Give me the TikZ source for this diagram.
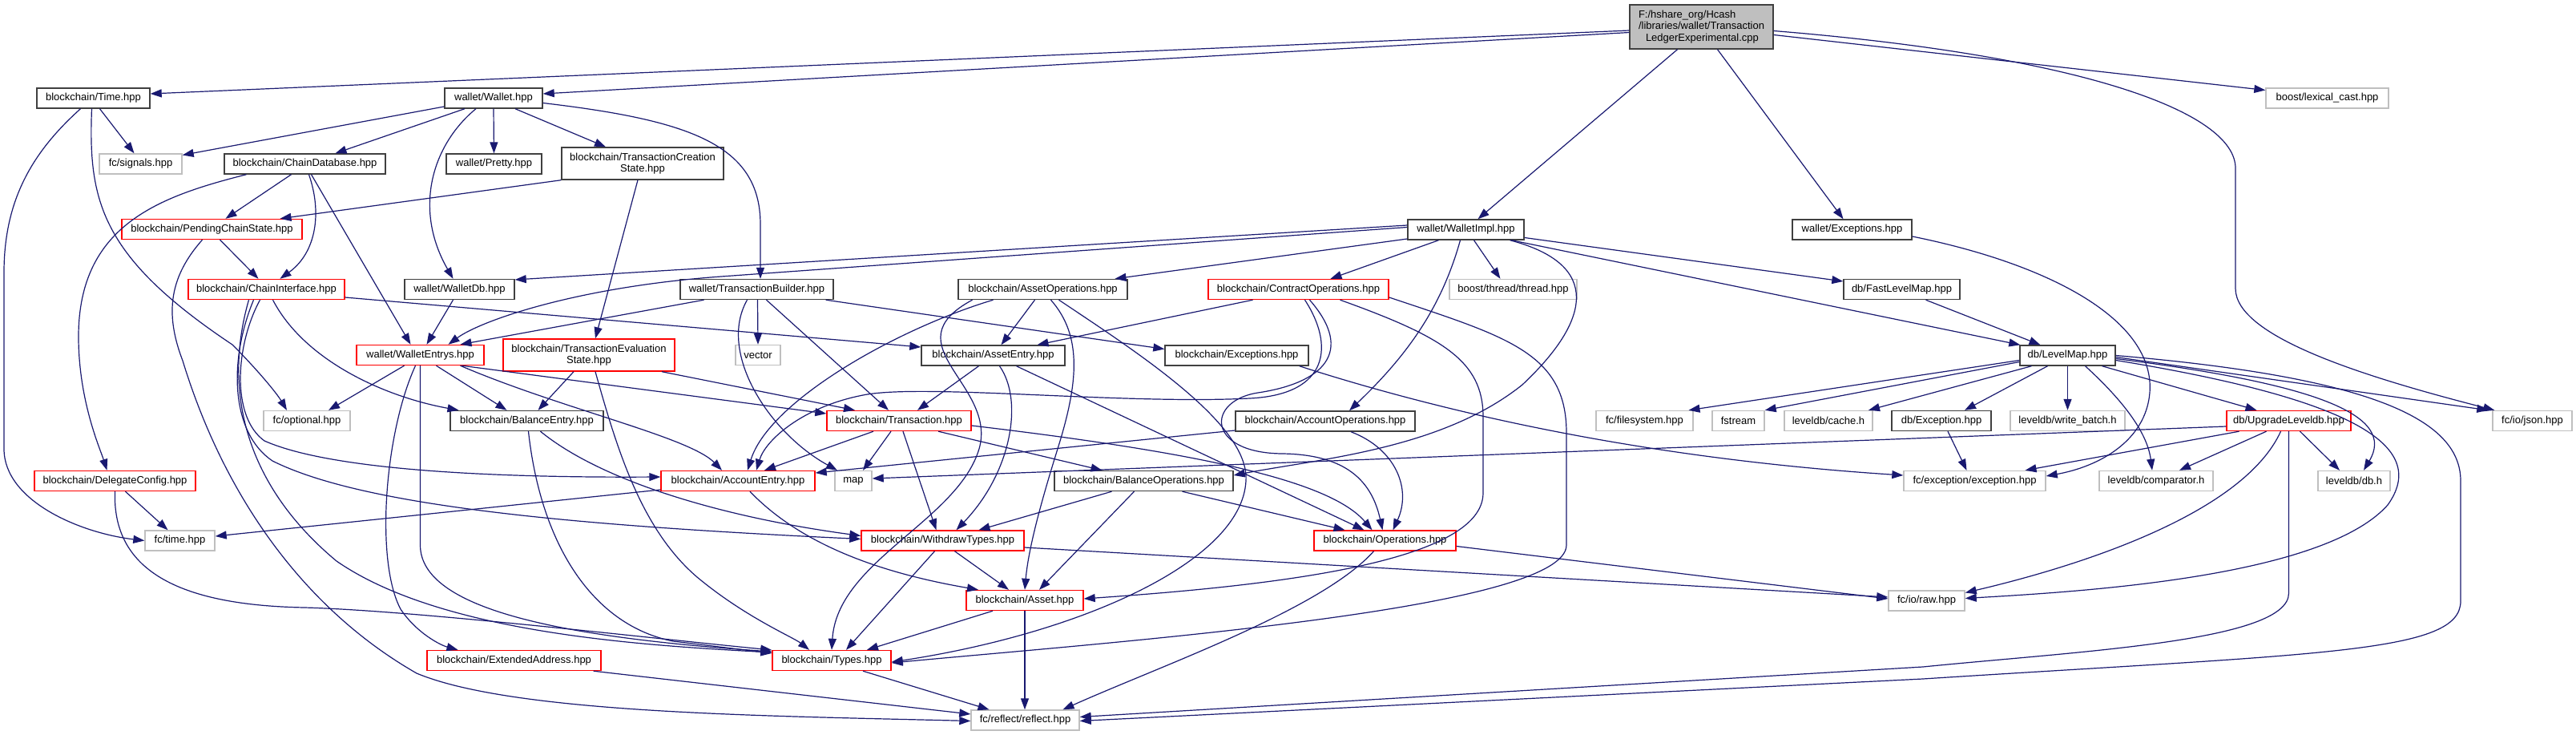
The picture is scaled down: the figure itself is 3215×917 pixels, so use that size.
\documentclass[tikz,border=0pt]{standalone}
\usepackage{fontspec}
\setmainfont{Liberation Sans}
\usetikzlibrary{arrows.meta}
\definecolor{edgec}{HTML}{191970}
\definecolor{bkc}{HTML}{404040}
\definecolor{grc}{HTML}{BFBFBF}
\definecolor{rdc}{HTML}{FF0000}
\newcommand{\fsz}{\fontsize{13}{14.5}\selectfont}
\begin{document}
\begin{tikzpicture}[x=1pt,y=-1pt,
  nb/.style={draw, rectangle, inner sep=0pt, minimum height=25pt, font=\fsz, line width=1.4pt, fill=white, align=center, text=black},
  bk/.style={nb, draw=bkc},
  rd/.style={nb, draw=rdc},
  gr/.style={nb, draw=grc},
  rt/.style={nb, draw=bkc, fill=grc},
  e/.style={draw=edgec, line width=1.2pt, -{Triangle[length=14pt,width=10pt]}}]
\useasboundingbox (0,0) rectangle (3215,917);
\fill[white] (0,0) rectangle (3215,917);

% nodes
\node[rt, minimum width=179pt, minimum height=55pt, align=left] (root) at (2123.5,33.5) {F:/hshare\_org/Hcash\\/libraries/wallet/Transaction\\\hspace*{9pt}LedgerExperimental.cpp};
\node[bk, minimum width=141pt] (time) at (116.5,122.5) {blockchain/Time.hpp};
\node[bk, minimum width=122pt] (wallet) at (616,122.5) {wallet/Wallet.hpp};
\node[gr, minimum width=103pt] (signals) at (175.5,204.5) {fc/signals.hpp};
\node[bk, minimum width=201pt] (chaindb) at (380.5,204.5) {blockchain/ChainDatabase.hpp};
\node[bk, minimum width=119pt] (pretty) at (616.5,204.5) {wallet/Pretty.hpp};
\node[bk, minimum width=202pt, minimum height=40pt] (tcs) at (802,204) {blockchain/TransactionCreation\\State.hpp};
\node[rd, minimum width=225pt] (pcs) at (264.5,286) {blockchain/PendingChainState.hpp};
\node[rd, minimum width=195pt] (ci) at (332.5,361) {blockchain/ChainInterface.hpp};
\node[bk, minimum width=137pt] (walletdb) at (573.5,361) {wallet/WalletDb.hpp};
\node[rd, minimum width=159pt] (we) at (524.5,443) {wallet/WalletEntrys.hpp};
\node[rd, minimum width=214pt, minimum height=40pt] (tes) at (735,443) {blockchain/TransactionEvaluation\\State.hpp};
\node[bk, minimum width=191pt] (tb) at (944.5,361) {wallet/TransactionBuilder.hpp};
\node[bk, minimum width=211pt] (assetops) at (1301.5,361) {blockchain/AssetOperations.hpp};
\node[rd, minimum width=225pt] (contractops) at (1620.5,361) {blockchain/ContractOperations.hpp};
\node[gr, minimum width=56pt] (vector) at (946,443) {vector};
\node[bk, minimum width=179pt] (assetentry) at (1239.5,443.5) {blockchain/AssetEntry.hpp};
\node[bk, minimum width=179pt] (bcexc) at (1543.5,443.5) {blockchain/Exceptions.hpp};
\node[bk, minimum width=145pt] (walletimpl) at (1829.5,286.5) {wallet/WalletImpl.hpp};
\node[bk, minimum width=149pt] (wexc) at (2311.5,286.5) {wallet/Exceptions.hpp};
\node[gr, minimum width=159pt] (thread) at (1888.5,361) {boost/thread/thread.hpp};
\node[bk, minimum width=145pt] (flm) at (2373.5,361) {db/FastLevelMap.hpp};
\node[gr, minimum width=153pt] (lexical) at (2904.5,122.5) {boost/lexical\_cast.hpp};
\node[bk, minimum width=119pt] (levelmap) at (2580.5,443.5) {db/LevelMap.hpp};
\node[gr, minimum width=108pt] (optional) at (383,525) {fc/optional.hpp};
\node[bk, minimum width=191pt] (balentry) at (657.5,525) {blockchain/BalanceEntry.hpp};
\node[rd, minimum width=201pt] (delegate) at (143.5,600) {blockchain/DelegateConfig.hpp};
\node[gr, minimum width=87pt] (fctime) at (224.5,674.5) {fc/time.hpp};
\node[rd, minimum width=217pt] (extaddr) at (641.5,824) {blockchain/ExtendedAddress.hpp};
\node[rd, minimum width=180pt] (trx) at (1122,525) {blockchain/Transaction.hpp};
\node[rd, minimum width=192pt] (accentry) at (921,600) {blockchain/AccountEntry.hpp};
\node[gr, minimum width=46pt] (map) at (1065,600) {map};
\node[bk, minimum width=223pt] (balops) at (1427.5,600) {blockchain/BalanceOperations.hpp};
\node[rd, minimum width=203pt] (withdraw) at (1176.5,674.5) {blockchain/WithdrawTypes.hpp};
\node[rd, minimum width=146pt] (asset) at (1279,749) {blockchain/Asset.hpp};
\node[rd, minimum width=148pt] (types) at (1038,824) {blockchain/Types.hpp};
\node[gr, minimum width=135pt] (reflect) at (1279.5,898.5) {fc/reflect/reflect.hpp};
\node[bk, minimum width=224pt] (accops) at (1654,525.5) {blockchain/AccountOperations.hpp};
\node[rd, minimum width=177pt] (ops) at (1728.5,674.5) {blockchain/Operations.hpp};
\node[gr, minimum width=121pt] (filesystem) at (2052.5,525) {fc/filesystem.hpp};
\node[gr, minimum width=65pt] (fstream) at (2169.5,525) {fstream};
\node[gr, minimum width=110pt] (cache) at (2282,525) {leveldb/cache.h};
\node[bk, minimum width=124pt] (dbexc) at (2423,525) {db/Exception.hpp};
\node[gr, minimum width=177pt] (fcexc) at (2464.5,600) {fc/exception/exception.hpp};
\node[gr, minimum width=95pt] (raw) at (2404.5,749.5) {fc/io/raw.hpp};
\node[gr, minimum width=143pt] (wbatch) at (2580.5,525) {leveldb/write\_batch.h};
\node[rd, minimum width=155pt] (upgrade) at (2856.5,525) {db/UpgradeLeveldb.hpp};
\node[gr, minimum width=99pt] (json) at (3160.5,525) {fc/io/json.hpp};
\node[gr, minimum width=142pt] (comparator) at (2691,600) {leveldb/comparator.h};
\node[gr, minimum width=90pt] (dbh) at (2938,600) {leveldb/db.h};

% root
\draw[e] ([yshift=-4.5pt]root.west) -- ([yshift=5.5pt]time.east);
\draw[e] ([yshift=-7pt]root.west) -- ([yshift=5.5pt]wallet.east);
\draw[e] ([xshift=-30pt]root.south) -- ([xshift=15pt]walletimpl.north);
\draw[e] ([xshift=20pt]root.south) -- ([xshift=-11pt]wexc.north);
\draw[e] ([yshift=-10pt]root.east) -- ([yshift=10pt]lexical.west);
\draw[e] ([yshift=-5pt]root.east) .. controls (2600,70) and (2790,140) .. (2790,210) -- (2790,360) .. controls (2790,420) and (2950,470) .. ([xshift=3pt]json.north west);
% time
\draw[e] ([xshift=8pt]time.south) -- ([xshift=-8pt]signals.north);
\draw[e] ([xshift=-16pt]time.south) .. controls (40,190) and (5,250) .. (5,340) -- (5,560) .. controls (5,625) and (100,665) .. (fctime.west);
\draw[e] ([xshift=-2pt]time.south) .. controls (110,250) and (125,320) .. (290,430) .. controls (320,460) and (345,490) .. ([xshift=-25pt]optional.north);
% wallet
\draw[e] ([yshift=-10.5pt]wallet.west) -- ([yshift=11pt]signals.east);
\draw[e] ([xshift=-36pt]wallet.south) -- ([xshift=38pt]chaindb.north);
\draw[e] (wallet.south) -- (pretty.north);
\draw[e] ([xshift=27pt]wallet.south) -- ([xshift=-46pt]tcs.north);
\draw[e] ([xshift=-22pt]wallet.south) .. controls (540,180) and (515,260) .. ([xshift=-8pt]walletdb.north);
\draw[e] ([yshift=-6pt]wallet.east) .. controls (860,150) and (949,180) .. (949,280) -- ([xshift=4.5pt]tb.north);
% chaindb
\draw[e] ([xshift=-17pt]chaindb.south) -- ([xshift=17pt]pcs.north);
\draw[e] ([xshift=5pt]chaindb.south) .. controls (402,265) and (395,315) .. ([xshift=17pt]ci.north);
\draw[e] ([xshift=8pt]chaindb.south) -- ([xshift=-12pt]we.north);
\draw[e] ([xshift=-73pt]chaindb.south) .. controls (200,245) and (98,280) .. (98,420) .. controls (98,500) and (125,560) .. ([xshift=-10pt]delegate.north);
% tcs
\draw[e] (tcs.south west) -- ([xshift=85pt]pcs.north);
\draw[e] ([xshift=-6pt]tcs.south) -- ([xshift=8pt]tes.north);
% pcs
\draw[e] ([xshift=10pt]pcs.south) -- ([xshift=-10pt]ci.north);
\draw[e] ([xshift=-12pt]pcs.south) .. controls (212,345) and (205,390) .. (228,450) .. controls (280,620) and (380,760) .. (520,840) .. controls (640,890) and (950,893) .. ([yshift=-1pt]reflect.west);
% ci
\draw[e] ([yshift=-10pt]ci.east) -- ([yshift=10.5pt]assetentry.west);
\draw[e] ([xshift=8pt]ci.south) .. controls (380,450) and (480,495) .. ([xshift=-85pt]balentry.north);
\draw[e] ([xshift=-8pt]ci.south) .. controls (294,430) and (288,520) .. (330,550) .. controls (420,590) and (650,596) .. ([yshift=5pt]accentry.west);
\draw[e] ([xshift=-16pt]ci.south) .. controls (285,450) and (288,540) .. (340,575) .. controls (450,630) and (700,655) .. ([yshift=2pt]withdraw.west);
\draw[e] ([xshift=-22pt]ci.south) .. controls (280,480) and (300,600) .. (420,700) .. controls (550,790) and (800,805) .. ([yshift=10pt]types.west);
% walletdb
\draw[e] ([xshift=-8pt]walletdb.south) -- ([xshift=8pt]we.north);
% we
\draw[e] ([xshift=-20pt]we.south) -- ([xshift=27pt]optional.north);
\draw[e] ([xshift=20pt]we.south) -- ([xshift=-25pt]balentry.north);
\draw[e] ([xshift=50pt]we.south) .. controls (700,510) and (860,545) .. ([xshift=-20pt]accentry.north);
\draw[e] ([xshift=52pt]we.south) -- ([yshift=9pt]trx.west);
\draw[e] ([xshift=-6pt]we.south) .. controls (480,540) and (468,700) .. (500,760) .. controls (520,790) and (550,805) .. ([xshift=-70pt]extaddr.north);
\draw[e] (we.south) -- (524.5,680) .. controls (524.5,760) and (700,795) .. ([yshift=11pt]types.west);
% tes
\draw[e] ([xshift=-19pt]tes.south) -- ([xshift=14pt]balentry.north);
\draw[e] ([xshift=91pt]tes.south) -- ([xshift=-55pt]trx.north);
\draw[e] ([xshift=8pt]tes.south) .. controls (770,560) and (800,660) .. (870,720) .. controls (930,770) and (990,795) .. ([xshift=-28pt]types.north);
% walletimpl
\draw[e] ([yshift=5.5pt]walletimpl.west) -- ([yshift=12pt]walletdb.east);
\draw[e] ([yshift=3pt]walletimpl.west) -- (900,345) .. controls (720,358) and (600,400) .. ([xshift=35pt]we.north);
\draw[e] ([yshift=-11.5pt]walletimpl.west) -- ([xshift=90pt]assetops.north);
\draw[e] ([xshift=-34pt]walletimpl.south) -- ([xshift=40pt]contractops.north);
\draw[e] ([xshift=10pt]walletimpl.south) -- ([xshift=-16pt]thread.north);
\draw[e] ([yshift=-10pt]walletimpl.east) -- ([yshift=10pt]flm.west);
\draw[e] ([xshift=57pt]walletimpl.south) -- ([xshift=1pt]levelmap.north west);
\draw[e] ([xshift=-7pt]walletimpl.south) .. controls (1800,380) and (1760,440) .. ([xshift=30pt]accops.north);
\draw[e] ([xshift=55pt]walletimpl.south) .. controls (2000,330) and (1985,400) .. (1900,480) .. controls (1800,560) and (1650,572) .. ([yshift=7pt]balops.east);
% tb
\draw[e] ([xshift=-66pt]tb.south) -- ([xshift=50pt]we.north);
\draw[e] ([xshift=1pt]tb.south) -- (vector.north);
\draw[e] ([xshift=12pt]tb.south) -- ([xshift=-13pt]trx.north);
\draw[e] ([xshift=-12pt]tb.south) .. controls (895,440) and (960,540) .. ([xshift=-20pt]map.north);
\draw[e] ([xshift=-10pt]tb.south east) -- ([yshift=8pt]bcexc.west);
% assetops
\draw[e] ([xshift=-10pt]assetops.south) -- ([xshift=10pt]assetentry.north);
\draw[e] ([xshift=-62pt]assetops.south) .. controls (1120,410) and (960,500) .. ([xshift=12pt]accentry.north);
\draw[e] ([xshift=-88pt]assetops.south) .. controls (1110,430) and (1245,480) .. (1222,560) .. controls (1195,650) and (1045,700) .. (types.north);
\draw[e] ([xshift=10pt]assetops.south) .. controls (1352,420) and (1345,480) .. (1320,560) .. controls (1295,640) and (1283,690) .. (asset.north);
\draw[e] ([xshift=20pt]assetops.south) .. controls (1420,440) and (1560,530) .. (1555,600) .. controls (1550,700) and (1350,790) .. ([yshift=-2pt]types.east);
% contractops
\draw[e] ([xshift=-57pt]contractops.south) -- ([xshift=55pt]assetentry.north);
\draw[e] ([xshift=8pt]contractops.south) .. controls (1665,430) and (1660,492) .. (1560,497) .. controls (1400,505) and (1150,478) .. (1077,493) .. controls (1000,508) and (955,550) .. ([xshift=23pt]accentry.north);
\draw[e] ([xshift=14pt]contractops.south) .. controls (1692,440) and (1650,478) .. (1570,490) .. controls (1505,500) and (1505,565) .. (1600,566) .. controls (1680,567) and (1712,600) .. ([xshift=-3pt]ops.north);
\draw[e] ([xshift=52pt]contractops.south) .. controls (1800,420) and (1851,450) .. (1851,520) -- (1851,615) .. controls (1851,700) and (1600,730) .. ([yshift=2pt]asset.east);
\draw[e] ([yshift=-10pt]contractops.east) .. controls (1880,420) and (1955,440) .. (1955,540) -- (1955,680) .. controls (1955,760) and (1400,800) .. ([yshift=-3pt]types.east);
% exceptions, fastlevelmap
\draw[e] ([yshift=-8.5pt]wexc.east) .. controls (2560,330) and (2690,400) .. (2683,490) .. controls (2678,550) and (2620,582) .. ([yshift=6pt]fcexc.east);
\draw[e] ([xshift=30pt]flm.south) -- ([xshift=-34pt]levelmap.north);
\draw[e] ([xshift=-12pt]bcexc.south east) .. controls (1850,530) and (2100,575) .. ([yshift=7pt]fcexc.west);
% assetentry
\draw[e] ([xshift=-18pt]assetentry.south) -- ([xshift=23pt]trx.north);
\draw[e] ([xshift=8pt]assetentry.south) .. controls (1278,500) and (1262,590) .. ([xshift=17pt]withdraw.north);
\draw[e] ([xshift=29pt]assetentry.south) -- ([xshift=-26pt]ops.north);
% accops
\draw[e] ([yshift=-11.5pt]accops.west) -- ([yshift=10pt]accentry.east);
\draw[e] ([xshift=32pt]accops.south) .. controls (1742,560) and (1762,610) .. ([xshift=10pt]ops.north);
% trx
\draw[e] ([xshift=-32pt]trx.south) -- ([xshift=33pt]accentry.north);
\draw[e] ([xshift=-10pt]trx.south) -- ([xshift=12pt]map.north);
\draw[e] ([xshift=5pt]trx.south) -- ([xshift=-8pt]withdraw.north);
\draw[e] ([xshift=49pt]trx.south) -- ([xshift=-52pt]balops.north);
\draw[e] ([yshift=-6pt]trx.east) .. controls (1500,565) and (1660,600) .. ([xshift=-16pt]ops.north);
% balops
\draw[e] ([xshift=-40pt]balops.south) -- ([xshift=45pt]withdraw.north);
\draw[e] ([xshift=-12pt]balops.south) -- ([xshift=18pt]asset.north);
\draw[e] ([xshift=48pt]balops.south) -- ([xshift=-50pt]ops.north);
% accentry
\draw[e] ([yshift=-11pt]accentry.west) -- ([yshift=5.5pt]fctime.east);
\draw[e] ([xshift=15pt]accentry.south) .. controls (1000,680) and (1100,715) .. ([xshift=-58pt]asset.north);
% balentry
\draw[e] ([xshift=17pt]balentry.south) .. controls (750,600) and (900,645) .. ([yshift=6pt]withdraw.west);
\draw[e] ([xshift=2pt]balentry.south) .. controls (675,680) and (740,780) .. (840,800) -- ([yshift=9pt]types.west);
% withdraw
\draw[e] ([xshift=15pt]withdraw.south) -- ([xshift=-20pt]asset.north);
\draw[e] ([xshift=-10pt]withdraw.south) -- ([xshift=18pt]types.north);
\draw[e] ([yshift=-8.5pt]withdraw.east) -- ([yshift=4.5pt]raw.west);
% asset, types
\draw[e] ([xshift=-40pt]asset.south) -- ([xshift=44pt]types.north);
\draw[e] (asset.south) -- ([xshift=-0.5pt]reflect.north);
\draw[e] ([xshift=39pt]types.south) -- ([xshift=-45pt]reflect.north);
% ops
\draw[e] ([xshift=-14pt]ops.south) .. controls (1650,760) and (1450,830) .. ([xshift=47pt]reflect.north);
\draw[e] ([yshift=-7pt]ops.east) -- ([yshift=2.5pt]raw.west);
% extaddr, delegate
\draw[e] ([xshift=-10pt]extaddr.south east) -- ([yshift=7.5pt]reflect.west);
\draw[e] ([xshift=13pt]delegate.south) -- ([xshift=-15pt]fctime.north);
\draw[e] (delegate.south) .. controls (140,710) and (220,755) .. (380,758) .. controls (520,762) and (800,795) .. ([yshift=13pt]types.west);
% levelmap
\draw[e] ([yshift=-6pt]levelmap.west) -- ([xshift=55pt]filesystem.north);
\draw[e] ([yshift=-8pt]levelmap.west) -- (fstream.north east);
\draw[e] ([xshift=-45pt]levelmap.south) -- ([xshift=50pt]cache.north);
\draw[e] ([xshift=-25pt]levelmap.south) -- ([xshift=29pt]dbexc.north);
\draw[e] (levelmap.south) -- (wbatch.north);
\draw[e] ([xshift=22pt]levelmap.south) .. controls (2650,500) and (2680,540) .. ([xshift=-5pt]comparator.north);
\draw[e] ([xshift=43pt]levelmap.south) -- ([xshift=-40pt]upgrade.north);
\draw[e] ([yshift=-4pt]levelmap.east) .. controls (2900,480) and (2990,520) .. ([xshift=12pt]dbh.north);
\draw[e] ([yshift=-2pt]levelmap.east) -- ([xshift=-5pt]json.north west);
\draw[e] ([yshift=-6pt]levelmap.east) .. controls (2950,500) and (3030,560) .. (2980,630) .. controls (2900,720) and (2600,738) .. ([yshift=3pt]raw.east);
\draw[e] (levelmap.east) .. controls (2950,470) and (3071,520) .. (3071,600) -- (3071,750) .. controls (3071,815) and (2900,815) .. (2400,847) -- ([yshift=-1pt]reflect.east);
% upgrade
\draw[e] ([yshift=-7pt]upgrade.west) -- ([yshift=3pt]map.east);
\draw[e] ([xshift=-62pt]upgrade.south) -- ([xshift=63pt]fcexc.north);
\draw[e] ([xshift=-28pt]upgrade.south) -- ([xshift=29pt]comparator.north);
\draw[e] ([xshift=-10pt]upgrade.south) .. controls (2800,640) and (2600,705) .. ([yshift=10pt]raw.east);
\draw[e] (upgrade.south) -- (2856.5,740) .. controls (2856.5,800) and (2600,812) .. (2400,832) -- ([yshift=4pt]reflect.east);
\draw[e] ([xshift=14pt]upgrade.south) -- ([xshift=-18pt]dbh.north);
% dbexc
\draw[e] ([xshift=8pt]dbexc.south) -- ([xshift=-10pt]fcexc.north);
\end{tikzpicture}
\end{document}
